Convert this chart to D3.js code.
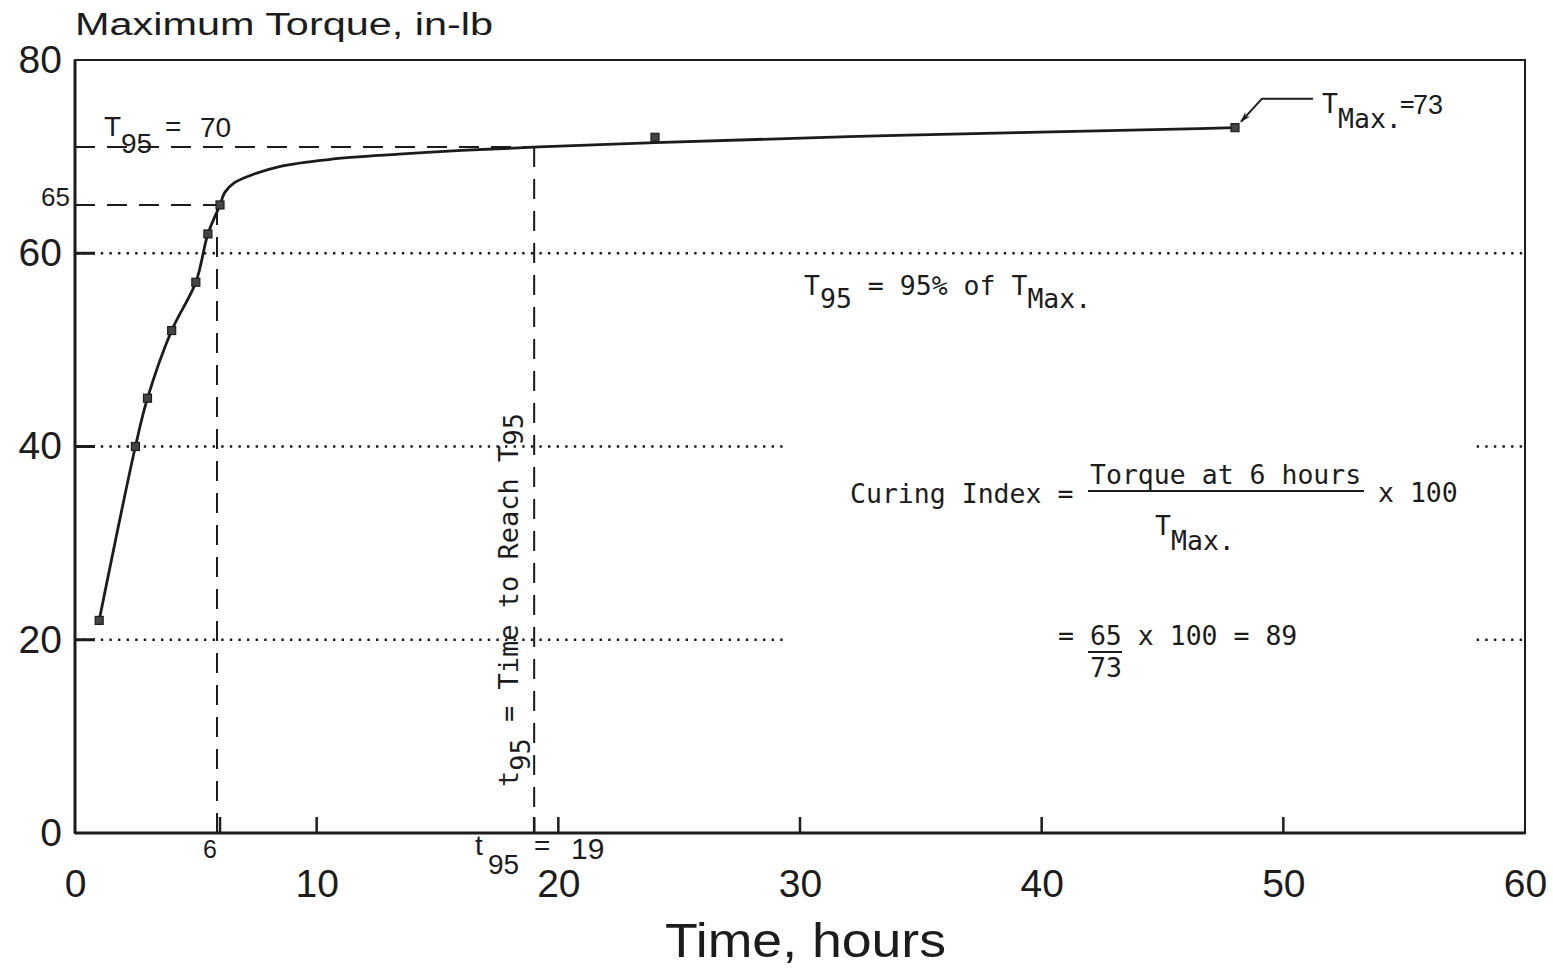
<!DOCTYPE html>
<html><head><meta charset="utf-8">
<script src="https://cdn.jsdelivr.net/npm/d3@7"></script>
<style>html,body{margin:0;padding:0;background:#fff;} svg{display:block}</style>
</head><body>
<svg id="chart" width="1553" height="968"></svg>
<script>
// ---- data ----
const timeHours = [1, 2.5, 3, 4, 5, 5.5, 6, 24, 48];
const maxTorque = [22, 40, 45, 52, 57, 62, 65, 72, 73];
// points along the hand-drawn fitted curve
const curveTime   = [1, 2.5, 3, 4, 5, 5.5, 6, 6.2, 6.6, 7.2, 8.5, 10.5, 13.4, 16, 19.2, 24, 34, 46.5, 48];
const curveTorque = [22, 40, 45, 52, 57, 62, 65, 66.3, 67.3, 68.0, 69.0, 69.7, 70.25, 70.65, 71.0, 71.45, 72.2, 72.9, 73];
const xTicks = [0, 10, 20, 30, 40, 50, 60];
const yTicks = [0, 20, 40, 60, 80];
const xInnerTicks = [6, 10, 19, 20, 30, 40, 50];
const yInnerTicks = [20, 40, 60];
const gridValues = [20, 40, 60];
const gridGap = [29.4, 58];          // dotted 20 & 40 lines interrupted by the formula
const t95Level = 71;                 // drawn level of the T95 line (labelled 70)
const t95Time = 19;
const sixHours = 6;
const torqueAt6 = 65;
const tMaxTime = 48;
const tMax = 73;

const W = 1553, H = 968;
const svg = d3.select("#chart");
const x = d3.scaleLinear().domain([0, 60]).range([75, 1525]);
const y = d3.scaleLinear().domain([0, 80]).range([833, 60]);
const INK = "#1c1c1c";
const SANS = "'Liberation Sans', Arial, sans-serif";
const MONO = "'DejaVu Sans Mono', monospace";

svg.append("rect").attr("width", W).attr("height", H).attr("fill", "#fff");

// dotted grid lines
gridValues.forEach(v => {
  const segs = v === 60 ? [[0, 60]] : [[0, gridGap[0]], [gridGap[1], 60]];
  segs.forEach(([a, b]) => svg.append("line")
    .attr("x1", x(a)).attr("x2", x(b)).attr("y1", y(v)).attr("y2", y(v))
    .attr("stroke", INK).attr("stroke-width", 2.4).attr("stroke-dasharray", "2.4,6.2"));
});

// frame
svg.append("rect").attr("x", x(0)).attr("y", y(80))
  .attr("width", x(60) - x(0)).attr("height", y(0) - y(80))
  .attr("fill", "none").attr("stroke", INK).attr("stroke-width", 2);
svg.append("line").attr("x1", x(0)).attr("x2", x(0)).attr("y1", y(80)).attr("y2", y(0))
  .attr("stroke", INK).attr("stroke-width", 3);
svg.append("line").attr("x1", x(0)).attr("x2", x(60)).attr("y1", y(0)).attr("y2", y(0))
  .attr("stroke", INK).attr("stroke-width", 3);

// inner ticks
svg.selectAll(".xt").data(xInnerTicks).join("line")
  .attr("x1", d => x(d)).attr("x2", d => x(d)).attr("y1", y(0)).attr("y2", y(0) - 16)
  .attr("stroke", INK).attr("stroke-width", 2.5);
svg.selectAll(".yt").data(yInnerTicks).join("line")
  .attr("x1", x(0)).attr("x2", x(0) + 20).attr("y1", d => y(d)).attr("y2", d => y(d))
  .attr("stroke", INK).attr("stroke-width", 3);

// axes labels via d3 axes
const gx = svg.append("g").attr("transform", `translate(0,${y(0)})`)
  .call(d3.axisBottom(x).tickValues(xTicks).tickSize(0).tickPadding(36).tickFormat(d3.format("d")));
gx.select(".domain").remove();
gx.selectAll("text").attr("font-family", SANS).attr("font-size", 39).attr("fill", INK);

const gy = svg.append("g").attr("transform", `translate(${x(0)},0)`)
  .call(d3.axisLeft(y).tickValues(yTicks).tickSize(0).tickPadding(13).tickFormat(d3.format("d")));
gy.select(".domain").remove();
gy.selectAll("text").attr("font-family", SANS).attr("font-size", 39).attr("fill", INK);

// titles
svg.append("text").attr("x", 75).attr("y", 35).attr("font-family", SANS).attr("font-size", 31)
  .attr("fill", INK).attr("textLength", 418).attr("lengthAdjust", "spacingAndGlyphs")
  .text("Maximum Torque, in-lb");
svg.append("text").attr("x", 665).attr("y", 957).attr("font-family", SANS).attr("font-size", 48)
  .attr("fill", INK).attr("textLength", 281).attr("lengthAdjust", "spacingAndGlyphs")
  .text("Time, hours");

// dashed reference lines
const dash = (x1, y1, x2, y2) => svg.append("line")
  .attr("x1", x1).attr("y1", y1).attr("x2", x2).attr("y2", y2)
  .attr("stroke", INK).attr("stroke-width", 2).attr("stroke-dasharray", "20,12");
dash(x(0), y(t95Level), x(t95Time + 0.2), y(t95Level));
dash(x(0), y(torqueAt6), x(sixHours), y(torqueAt6));
dash(x(sixHours) - 3, y(torqueAt6), x(sixHours) - 3, y(0));
dash(x(t95Time), y(t95Level), x(t95Time), y(0));

// curve
const pts = curveTime.map((t, i) => [t, curveTorque[i]]);
svg.append("path").datum(pts)
  .attr("d", d3.line().x(d => x(d[0])).y(d => y(d[1])).curve(d3.curveCatmullRom.alpha(0.5)))
  .attr("fill", "none").attr("stroke", INK).attr("stroke-width", 2.8);

// markers
const mk = timeHours.map((t, i) => [t, maxTorque[i]]);
svg.selectAll(".mk").data(mk).join("rect")
  .attr("x", d => x(d[0]) - 4).attr("y", d => y(d[1]) - 4)
  .attr("width", 8).attr("height", 8)
  .attr("fill", "#444").attr("stroke", INK).attr("stroke-width", 1.2);

// ---- annotations ----
function txt(xp, yp, s, fam, size, anchor) {
  return svg.append("text").attr("x", xp).attr("y", yp).attr("font-family", fam)
    .attr("font-size", size).attr("fill", INK).attr("text-anchor", anchor || "start").text(s);
}
// parts: [string, baselineOffset]
function mono(parent, xp, yp, parts, size) {
  const t = parent.append("text").attr("x", xp).attr("y", yp)
    .attr("font-family", MONO).attr("font-size", size || 26.5).attr("fill", INK)
    .attr("xml:space", "preserve");
  let prev = 0;
  parts.forEach(([s, off]) => {
    t.append("tspan").attr("dy", off - prev).text(s);
    prev = off;
  });
  return t;
}

// T95 = 70
txt(104, 136, "T", SANS, 28);
txt(121, 153, "95", SANS, 28);
txt(165, 136, "=", SANS, 28);
txt(200, 137, "70", SANS, 28);
// 65
txt(70, 206, "65", SANS, 26, "end");
// 6 below the axis
txt(x(sixHours) - 10, 858, "6", SANS, 25, "middle");
// t95 = 19
txt(475, 855, "t", SANS, 28);
txt(488, 874, "95", SANS, 28);
txt(534, 855, "=", SANS, 28);
txt(571, 859, "19", SANS, 30);

// T95 = 95% of TMax.
mono(svg, 804, 295, [["T", 0], ["95", 13], [" = 95% of T", 0], ["Max.", 13]]);

// Curing index formula
mono(svg, 850, 503, [["Curing Index =", 0]]);
mono(svg, 1090, 484, [["Torque at 6 hours", 0]]);
svg.append("line").attr("x1", 1088).attr("x2", 1364).attr("y1", 491).attr("y2", 491)
  .attr("stroke", INK).attr("stroke-width", 2);
mono(svg, 1378, 502, [["x 100", 0]]);
mono(svg, 1155, 535, [["T", 0], ["Max.", 15]]);

mono(svg, 1058, 645, [["= 65 x 100 = 89", 0]]);
svg.append("line").attr("x1", 1088).attr("x2", 1122).attr("y1", 652).attr("y2", 652)
  .attr("stroke", INK).attr("stroke-width", 2);
mono(svg, 1090, 677, [["73", 0]]);

// TMax = 73 with leader arrow
const defs = svg.append("defs");
defs.append("marker").attr("id", "arr").attr("viewBox", "0 0 10 10")
  .attr("refX", 9).attr("refY", 5).attr("markerWidth", 13).attr("markerHeight", 11)
  .attr("orient", "auto").attr("markerUnits", "userSpaceOnUse")
  .append("path").attr("d", "M0,2 L10,5 L0,8 L3,5 Z").attr("fill", INK);
const px = x(tMaxTime), py = y(tMax);
svg.append("path")
  .attr("d", `M${px + 78},${py - 29} L${px + 27},${py - 29} L${px + 6},${py - 6}`)
  .attr("fill", "none").attr("stroke", INK).attr("stroke-width", 2).attr("marker-end", "url(#arr)");
mono(svg, 1322, 113, [["T", 0], ["Max.", 15]]);
mono(svg, 1400, 112, [["=", 0]], 24);
txt(1413, 114, "73", SANS, 27);

// vertical label t95 = Time to Reach T95
const gv = svg.append("g").attr("transform", "translate(518,787) rotate(-90)");
mono(gv, 0, 0, [["t", 0], ["95", 12], [" = Time to Reach T", 0], ["95", 5]], 27);
</script>
</body></html>
